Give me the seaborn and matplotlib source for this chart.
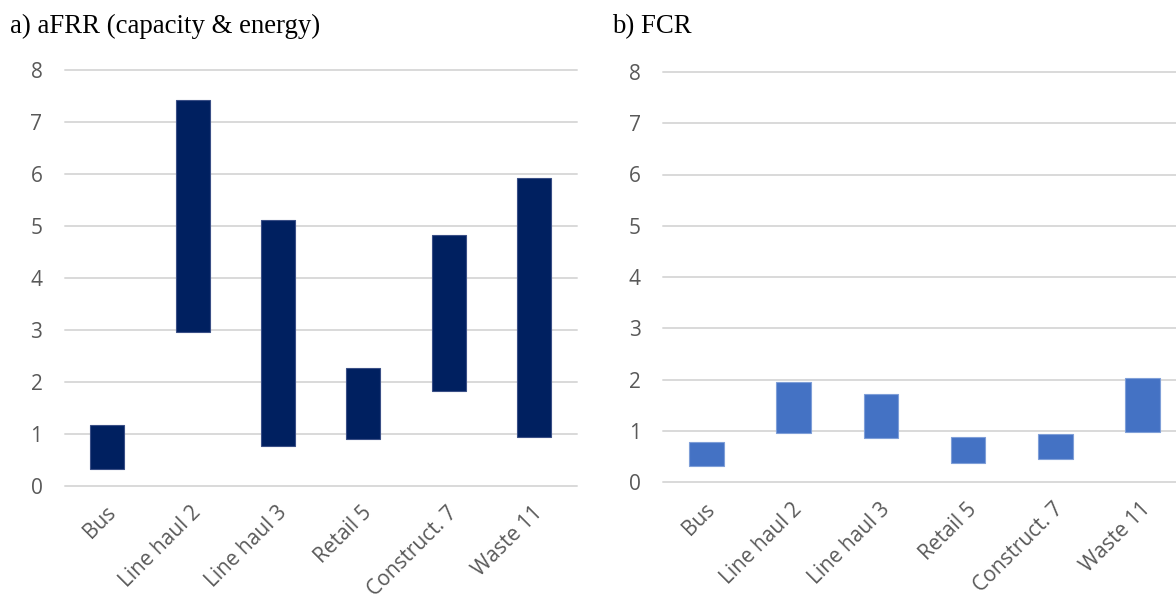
import matplotlib
matplotlib.use("Agg")
import matplotlib.pyplot as plt
import matplotlib.transforms as mtransforms
import seaborn as sns
import numpy as np
import pandas as pd

# Vehicle segments shown on both panels
categories = ["Bus", "Line haul 2", "Line haul 3", "Retail 5", "Construct. 7", "Waste 11"]

# aFRR (capacity & energy): lower and upper end of each range
afrr_low = [0.33, 2.95, 0.76, 0.90, 1.83, 0.93]
afrr_high = [1.17, 7.42, 5.10, 2.27, 4.82, 5.92]

# FCR: lower and upper end of each range
fcr_low = [0.31, 0.96, 0.85, 0.38, 0.45, 0.98]
fcr_high = [0.79, 1.95, 1.72, 0.87, 0.94, 2.02]

y_ticks = [0, 1, 2, 3, 4, 5, 6, 7, 8]

sns.set_theme(style="white")
plt.rcParams["font.family"] = ["Open Sans", "DejaVu Sans"]

W, H = 1176, 597
fig = plt.figure(figsize=(W / 100, H / 100), dpi=100)
ax_a = fig.add_axes([64.6 / W, (H - 485.7) / H, 512 / W, 416 / H])
ax_b = fig.add_axes([663.2 / W, (H - 482) / H, 522.6 / W, 410 / H])

tick_color = "#595959"
grid_color = "#D9D9D9"


def range_bars(ax, low, high, color, edge):
    df = pd.DataFrame({
        "segment": categories,
        "span": np.array(high) - np.array(low),
    })
    sns.barplot(data=df, x="segment", y="span", order=categories, bottom=low,
                color=color, saturation=1, width=0.40, edgecolor=edge,
                linewidth=0.8, ax=ax, zorder=3)
    ax.set_ylim(0, 8)
    ax.set_xlim(-0.5, 5.5)
    ax.set_yticks(y_ticks)
    ax.set_yticklabels([str(t) for t in y_ticks])
    for t in y_ticks:
        ax.axhline(t, color=grid_color, lw=1.4, zorder=1, clip_on=False)
    for s in ax.spines.values():
        s.set_visible(False)
    ax.set_xlabel("")
    ax.set_ylabel("")
    ax.tick_params(axis="both", length=0, colors=tick_color, labelsize=15)
    ax.tick_params(axis="y", pad=16)
    ax.set_xticks(range(len(categories)))
    ax.set_xticklabels(categories, rotation=45, ha="right", va="top",
                       rotation_mode="anchor")
    ax.tick_params(axis="x", pad=12)
    shift = mtransforms.ScaledTranslation(-2 / 100, 0, fig.dpi_scale_trans)
    for lab in ax.get_xticklabels():
        lab.set_transform(lab.get_transform() + shift)


range_bars(ax_a, afrr_low, afrr_high, "#002060", "#3a4f86")
range_bars(ax_b, fcr_low, fcr_high, "#4472C4", "#7f9fd8")

fig.text(10 / W, 1 - 33 / H, "a) aFRR (capacity & energy)",
         family="Liberation Serif", fontsize=19.3, color="#000000", va="baseline")
fig.text(612 / W, 1 - 33 / H, "b) FCR",
         family="Liberation Serif", fontsize=19.3, color="#000000", va="baseline")

fig.savefig("out.png", dpi=100)
